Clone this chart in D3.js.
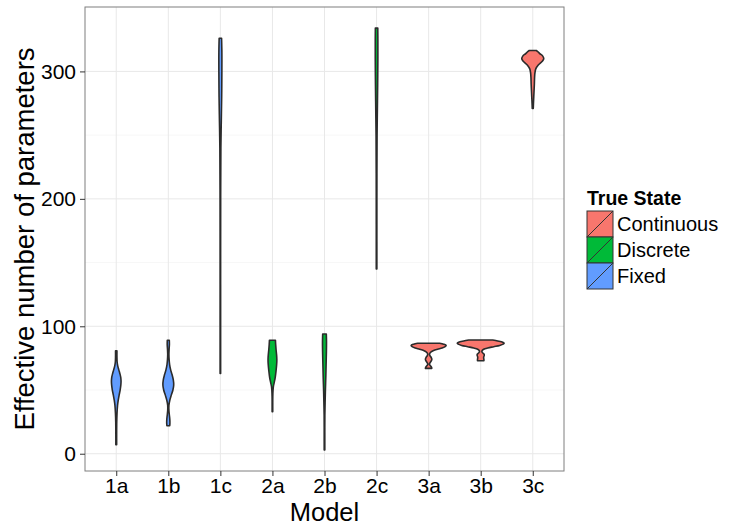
<!DOCTYPE html>
<html><head><meta charset="utf-8">
<script src="https://cdn.jsdelivr.net/npm/d3@7"></script>
<style>body{margin:0;background:#fff}svg{display:block}text{font-family:"Liberation Sans",Arial,Helvetica,sans-serif}</style>
</head><body><div id="chart"></div>
<script>
// ---- data ----
const models = ["1a","1b","1c","2a","2b","2c","3a","3b","3c"];
const trueState = ["Fixed","Fixed","Fixed","Discrete","Discrete","Discrete","Continuous","Continuous","Continuous"];
const stateLevels = ["Continuous","Discrete","Fixed"];
const stateColors = ["#F8766D","#00BA38","#619CFF"];
const yTicks = [0,100,200,300];
const yMinor = [50,150,250];
// violin profiles: effective number of parameters (value) and relative density
const v1a = [7,15,25,32,38,42,46,50,54,57,60,63,66,69,72,76,80.7];
const d1a = [0.4,0.4,0.5,0.8,1.3,2.0,2.9,3.9,4.6,4.8,4.5,3.6,2.5,1.5,0.9,0.7,0.7];
const v1b = [22,24,27,30,34,38,42,46,50,54,58,62,66,70,74,78,82,86,89];
const d1b = [1.4,1.6,1.5,1.1,0.6,0.6,1.5,3.0,4.6,5.4,5.0,3.8,2.3,1.3,0.8,0.6,0.8,1.1,1.0];
const v1c = [63,100,150,200,240,260,280,300,315,326];
const d1c = [0.25,0.25,0.25,0.3,0.5,0.9,1.3,1.5,1.5,1.2];
const v2a = [33,40,45,50,53,56,60,65,70,74,78,82,86,89];
const d2a = [0.3,0.3,0.35,0.6,1.0,1.8,2.8,3.6,4.2,4.4,4.1,3.6,3.2,3.0];
const v2b = [3,10,20,30,40,50,60,70,80,88,94];
const d2b = [0.3,0.3,0.3,0.35,0.6,0.9,1.3,1.6,1.9,2.0,1.8];
const v2c = [145,180,220,250,270,290,310,325,334];
const d2c = [0.3,0.3,0.35,0.5,0.8,1.1,1.3,1.3,1.2];
const v3a = [67,68,69,70.3,71.5,73,74.2,75.5,77,78,79,80,81,82,83,84,85,86,86.7];
const d3a = [3.2,2.8,1.8,0.8,1.5,2.8,3.2,2.6,1.3,0.9,1.3,2.5,5,9,13.5,16.5,17.5,15,11];
const v3b = [73,74,75,76,77,78,79,80,81,82,83,84,85,86,86.7,87.5,88.5,89.3];
const d3b = [3.2,3.2,3.0,3.0,3.5,3.5,2.2,1.2,1.5,3,7,13,19,22.5,23.4,22,17,12];
const v3c = [271,275,280,285,290,295,299,302,305,308,310,312,314,315.5,316.4];
const d3c = [0.5,0.7,1.0,1.3,1.6,1.8,2.2,3.0,5.5,9.5,11,10,7,5,3.5];
const violinValues = [v1a,v1b,v1c,v2a,v2b,v2c,v3a,v3b,v3c];
const violinDensity = [d1a,d1b,d1c,d2a,d2b,d2c,d3a,d3b,d3c];

// ---- layout ----
const W = 731, H = 527;
const P = {left:85, right:564, top:7, bottom:471};
const svg = d3.select("#chart").append("svg").attr("width",W).attr("height",H);

const n = models.length;
const step = (P.right-P.left)/(n - 1 + 1.2);
const x = d3.scalePoint().domain(models).range([P.left+0.6*step, P.right-0.6*step]);
const allV = violinValues.flat();
const lo = d3.min(allV), hi = d3.max(allV), pad = (hi-lo)*0.05;
const y = d3.scaleLinear().domain([lo-pad, hi+pad]).range([P.bottom, P.top]);
const maxD = d3.max(violinDensity.flat());
const w = d3.scaleLinear().domain([0,maxD]).range([0, 0.45*step]);
const color = d3.scaleOrdinal().domain(stateLevels).range(stateColors);

// panel background & grid
svg.append("rect").attr("x",P.left).attr("y",P.top).attr("width",P.right-P.left).attr("height",P.bottom-P.top).attr("fill","#fff");
const g = svg.append("g");
g.selectAll("line.minor").data(yMinor).join("line")
  .attr("x1",P.left).attr("x2",P.right).attr("y1",d=>y(d)).attr("y2",d=>y(d))
  .attr("stroke","#F7F7F7").attr("stroke-width",1);
g.selectAll("line.majy").data(yTicks).join("line")
  .attr("x1",P.left).attr("x2",P.right).attr("y1",d=>y(d)).attr("y2",d=>y(d))
  .attr("stroke","#E8E8E8").attr("stroke-width",1);
g.selectAll("line.majx").data(models).join("line")
  .attr("y1",P.top).attr("y2",P.bottom).attr("x1",d=>x(d)).attr("x2",d=>x(d))
  .attr("stroke","#E8E8E8").attr("stroke-width",1);

// violins
const area = d3.area().curve(d3.curveCatmullRom)
  .y(d=>y(d[0]))
  .x0(d=>d[2]-w(d[1]))
  .x1(d=>d[2]+w(d[1]));
models.forEach((m,i)=>{
  const pts = violinValues[i].map((v,j)=>[v, violinDensity[i][j], x(m)]);
  svg.append("path").datum(pts).attr("d",area)
    .attr("fill",color(trueState[i])).attr("stroke","#2b2b2b").attr("stroke-width",1.6)
    .attr("stroke-linejoin","round");
});

// border
svg.append("rect").attr("x",P.left).attr("y",P.top).attr("width",P.right-P.left).attr("height",P.bottom-P.top)
  .attr("fill","none").attr("stroke","#7F7F7F").attr("stroke-width",1);

// axes
const ya = svg.append("g").attr("transform",`translate(${P.left},0)`)
  .call(d3.axisLeft(y).tickValues(yTicks).tickSize(5).tickPadding(4));
const xa = svg.append("g").attr("transform",`translate(0,${P.bottom})`)
  .call(d3.axisBottom(x).tickSize(5).tickPadding(2));
[ya,xa].forEach(a=>{
  a.select(".domain").remove();
  a.selectAll(".tick line").attr("stroke","#333").attr("stroke-width",1);
  a.selectAll(".tick text").attr("fill","#000").style("font-size","21px")
   .style("font-family",'"Liberation Sans",Arial,sans-serif');
});

// axis titles
svg.append("text").attr("x",(P.left+P.right)/2).attr("y",521).attr("text-anchor","middle")
  .style("font-size","25.5px").text("Model");
svg.append("text").attr("transform",`translate(34,${(P.top+P.bottom)/2}) rotate(-90)`)
  .attr("text-anchor","middle").style("font-size","27.5px").text("Effective number of parameters");

// legend
const L = {x:587, y:211, k:26};
svg.append("text").attr("x",L.x).attr("y",205).style("font-size","19.5px").style("font-weight","bold").text("True State");
stateLevels.forEach((s,i)=>{
  const ky = L.y + i*L.k;
  svg.append("rect").attr("x",L.x).attr("y",ky).attr("width",L.k).attr("height",L.k)
    .attr("fill",color(s)).attr("stroke","#333").attr("stroke-width",1);
  svg.append("line").attr("x1",L.x).attr("y1",ky+L.k).attr("x2",L.x+L.k).attr("y2",ky)
    .attr("stroke","#333").attr("stroke-width",1);
  svg.append("text").attr("x",L.x+L.k+4).attr("y",ky+L.k/2+7).style("font-size","20px").text(s);
});
</script></body></html>
